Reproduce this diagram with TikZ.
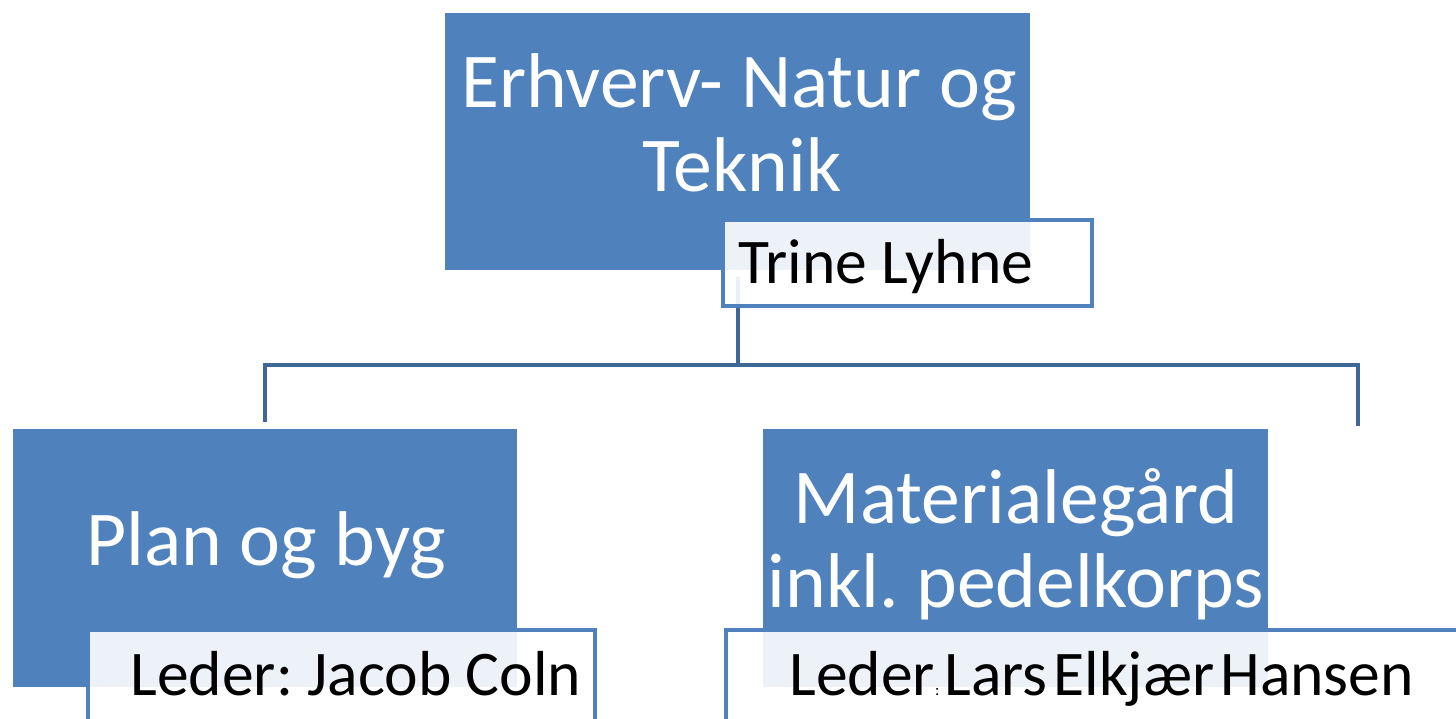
\documentclass[tikz,border=0pt]{standalone}
\usepackage{fontspec}
\setmainfont{Carlito}
\frenchspacing
\definecolor{accent}{HTML}{4F81BD}
\definecolor{connc}{HTML}{3F6897}
\tikzset{
  bluebox/.style={rectangle, fill=accent, draw=none, inner sep=0pt},
  namebox/.style={rectangle, fill=white, fill opacity=0.9, draw=accent, line width=2pt, inner sep=0pt},
  conn/.style={draw=connc, line width=2pt},
  bigtxt/.style={text=white, font=\fontsize{38.8}{42}\selectfont, inner sep=0pt, anchor=base},
  nametxt/.style={text=black, font=\fontsize{31.8}{36}\selectfont, inner sep=0pt, anchor=base west},
}
\begin{document}
\begin{tikzpicture}[x=0.5pt,y=-0.5pt]
\useasboundingbox (0,0) rectangle (1456,718);
\clip (0,0) rectangle (1456,718);
% blue boxes
\node[bluebox, minimum width=292.5pt, minimum height=128.5pt] (top) at (737.5,141.5) {};
\node[bluebox, minimum width=252pt, minimum height=129pt] (left) at (265,558) {};
\node[bluebox, minimum width=252.5pt, minimum height=129pt] (right) at (1015.5,558) {};
% connectors
\coordinate (tj) at (738,277);
\coordinate (hl) at (265,365);
\coordinate (hr) at (1358,365);
\coordinate (lend) at (265,422);
\coordinate (rend) at (1358,426);
\draw[conn] (tj) -- (tj |- hl);
\draw[conn] (lend) -- (hl) -- (hr) -- (rend);
% name boxes
\node[namebox, minimum width=184.5pt, minimum height=43pt] (topname) at (907.5,263) {};
\node[namebox, minimum width=253.5pt, minimum height=65pt] (leftname) at (341.5,695) {};
\node[namebox, minimum width=397pt, minimum height=65pt] (rightname) at (1123,695) {};
% texts
\node[bigtxt] (toptxt1) at (739,107) {Erhverv- Natur og};
\node[bigtxt] (toptxt2) at (742,191) {Teknik};
\node[bigtxt] (lefttxt) at (266,565) {Plan og byg};
\node[bigtxt] (righttxt1) at (1016,523) {Materialegård};
\node[bigtxt] (righttxt2) at (1016,607) {inkl. pedelkorps};
\node[nametxt] (toppers) at (738,283) {Trine Lyhne};
\node[nametxt] (leftpers) at (130,695) {Leder: Jacob Coln};
\node[nametxt] (rightpers) at (789,695) {Leder{\fontsize{8}{8}\selectfont :}\hspace{2.5pt}Lars\hspace{3pt}Elkjær\hspace{3pt}Hansen};
\end{tikzpicture}
\end{document}
